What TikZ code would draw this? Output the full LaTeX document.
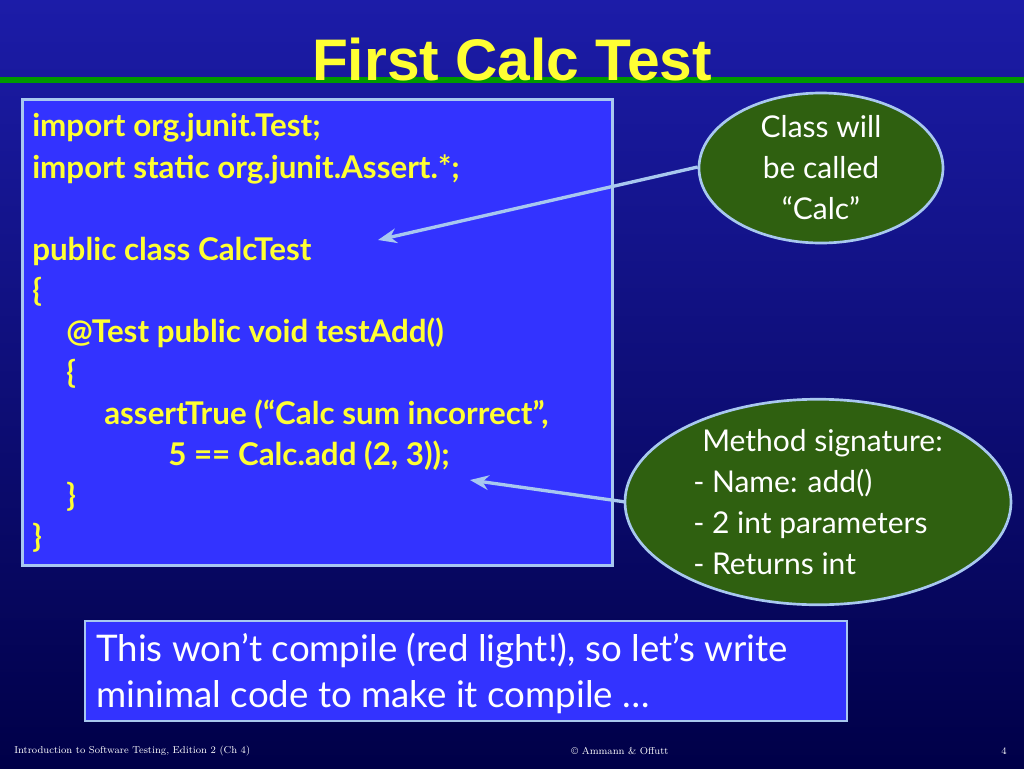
\documentclass[tikz,border=0pt]{standalone}
\usepackage{fontspec}
\setmainfont{Lato}
\setsansfont{Liberation Sans}
\newfontfamily\codefont{Lato}
\usetikzlibrary{shapes.geometric,arrows.meta}
\definecolor{bgtop}{HTML}{1C1CA8}
\definecolor{bgbot}{HTML}{000048}
\definecolor{codebg}{HTML}{3333FF}
\definecolor{edge}{HTML}{A8C8F0}
\definecolor{oval}{HTML}{2F6010}
\definecolor{codeyel}{HTML}{FFFF33}
\tikzset{
 codeline/.style={anchor=west,text=codeyel,font=\codefont\bfseries\fontsize{23.5}{25}\selectfont,inner sep=0},
 note/.style={ellipse,draw=edge,line width=2pt,fill=oval,text=white,font=\fontsize{22.5}{30.75}\selectfont},
 arr/.style={draw=edge,line width=2.5pt,-{Stealth[length=14pt,width=11pt]}},
 foot/.style={text=white,font=\fontfamily{ptm}\fontsize{7.5}{9}\selectfont,inner sep=0}
}
\begin{document}
\begin{tikzpicture}[x=0.75pt,y=-0.75pt]
\shade[top color=bgtop,bottom color=bgbot] (0,0) rectangle (1024,768);
\useasboundingbox (0,0) rectangle (1024,768);
\fill[green!60!black] (0,77) rectangle (1024,83);
\node[text=codeyel,font=\sffamily\bfseries\fontsize{44}{46}\selectfont] (title) at (512,60) {First Calc Test};
\node[draw=edge,line width=2pt,fill=codebg,minimum width=590*0.75pt,minimum height=466*0.75pt,anchor=north west,inner sep=0] (code) at (21,98) {};
\node[codeline] (l1) at (32,128) {import org.junit.Test;};
\node[codeline] (l2) at (32,169) {import static org.junit.Assert.*;};
\node[codeline] (l3) at (32,251) {public class CalcTest};
\node[codeline] (l4) at (32,292) {\{};
\node[codeline] (l5) at (66,333) {@Test public void testAdd()};
\node[codeline] (l6) at (66,374) {\{};
\node[codeline] (l7) at (104,415) {assertTrue (“Calc sum incorrect”,};
\node[codeline] (l8) at (168,456) {5 == Calc.add (2, 3));};
\node[codeline] (l9) at (66,497) {\}};
\node[codeline] (l10) at (32,538) {\}};
\node[note,minimum width=244*0.75pt,minimum height=150*0.75pt,align=center,inner sep=0] (e1) at (821,168) {Class will\\be called\\“Calc”};
\node[note,minimum width=386*0.75pt,minimum height=204*0.75pt,align=left,inner sep=0] (e2) at (818,502) {\hspace*{0.3em}Method signature:\\- Name: add()\\- 2 int parameters\\- Returns int};
\draw[arr] (e1.west) ++(0,-1) -- (378,240);
\draw[arr] (e2.west) ++(2,0) -- (470,480);
\node[draw=edge,line width=1.5pt,fill=codebg,minimum width=762*0.75pt,minimum height=100*0.75pt,anchor=north west,inner sep=0] (msg) at (84,620) {};
\node[anchor=west,text=white,align=left,font=\fontsize{27.5}{34.5}\selectfont,inner sep=0] (msgt) at (96,673) {This won’t compile (red light!), so let’s write\\minimal code to make it compile …};
\node[foot,anchor=west] (f1) at (14,751) {Introduction to Software Testing, Edition 2 (Ch 4)};
\node[foot] (f2) at (620,751) {© Ammann \& Offutt};
\node[foot] (f3) at (1004,751) {4};
\end{tikzpicture}
\end{document}
